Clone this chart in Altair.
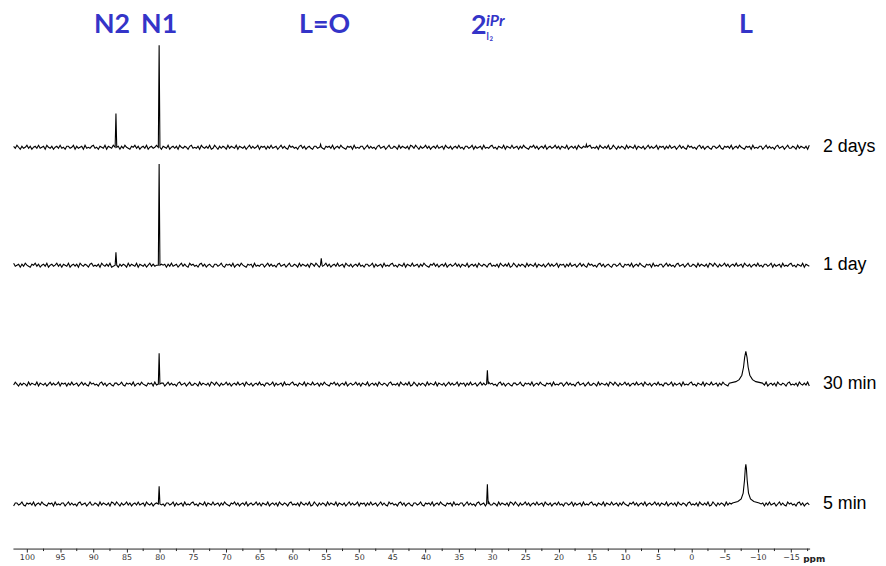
import altair as alt
import numpy as np
import pandas as pd

# ---------------- data ----------------
SPECTRA = ["2 days", "1 day", "30 min", "5 min"]
OFFSETS = [405, 286, 166, 45]  # vertical stacking of each trace (intensity units)

# sharp peaks per spectrum: (ppm, height)
SHARP = {
    "2 days": [(86.6, 34), (80.1, 103), (55.8, 3), (15.8, 3)],
    "1 day": [(86.6, 13), (80.1, 102), (55.7, 7)],
    "30 min": [(80.1, 31), (30.7, 14)],
    "5 min": [(80.1, 18), (30.7, 20)],
}
SHARP_HALF_WIDTH = 0.12

# broad peak of L (ppm, [(distance from centre, height), ...])
BROAD = {
    "30 min": (-8.2, [(2.5, 1), (1.5, 2.5), (1.0, 4.5), (0.6, 9), (0.35, 17), (0.18, 27), (0.0, 33)]),
    "5 min": (-8.2, [(2.0, 1), (1.2, 2.5), (0.7, 5), (0.4, 11), (0.2, 24), (0.08, 36), (0.0, 40)]),
}

# hand-typed baseline noise
NOISE = [
    1, -1, 2, 0, -2, 1, -1, 0, 2, -1, 1, -2, 0, 1, -1, 2, -1, 0, 1, -2, 2, 0, -1, 1, -2, 0, 1, -1, 2, -1,
    0, -2, 1, 1, -1, 0, 2, -2, 1, -1, 0, 1, -2, 2, -1, 0, -1, 1, 2, -1, 0, -2, 1, 0, -1, 2, -2, 1, 0, -1,
    2, -1, 0, 1, -2, 1, -1, 2, 0, -1, -2, 1, 0, 2, -1, 1, -2, 0, 1, -1, 2, -2, 0, 1, -1, 0, 2, -1, 1, -2,
    1, 0, -1, 2, -2, 0, 1, -1, 1, -2, 2, 0, -1, 1, 0, -2, 1, 2, -1, 0, -1, 1, -2, 2, 0, -1, 1, -1, 2, -2,
    -1, 2, 0, -2, 1, -1, 1, 0, -2, 2, -1, 1, 0, -1, 2, -2, 1, 0, -1, 1, -2, 0, 2, -1, 1, -1, 0, 2, -2, 1,
    0, 1, -2, 1, -1, 2, -1, 0, 1, -2, 0, 2, -1, 1, -1, -2, 2, 0, 1, -1, 0, -2, 1, 2, -1, 1, -2, 0, 1, -1,
    -2, 1, 1, -1, 0, 2, -1, -2, 1, 0, 1, -1, 2, -2, 0, 1, -1, 2, 0, -1, -2, 1, 0, 1, -2, 2, -1, 0, -1, 1,
    1, -2, 0, 2, -1, 1, -1, 0, -2, 1, 2, -1, 0, 1, -2, 0, 2, -1, -1, 1, 0, -2, 2, -1, 1, 0, -1, 1, -2, 2,
]
NOISE_SCALE = 1.0

PPM_GRID = np.round(np.arange(102.0, -17.9, -0.25), 2)

X_DOMAIN = [-17.8, 102.1]
MAJOR_TICKS = [100, 95, 90, 85, 80, 75, 70, 65, 60, 55, 50, 45, 40, 35, 30, 25, 20, 15, 10, 5, 0, -5, -10, -15]
MINOR_TICKS = [97.5, 92.5, 87.5, 82.5, 77.5, 72.5, 67.5, 62.5, 57.5, 52.5, 47.5, 42.5, 37.5, 32.5,
               27.5, 22.5, 17.5, 12.5, 7.5, 2.5, -2.5, -7.5, -12.5, -17.5]
MINOR_TICK_LEN = 2.5

# top labels
TOP_TEXT = ["N2", "N1", "L=O", "2", "L"]
TOP_PPM = [87.2, 80.1, 55.2, 32.0, -8.2]
TOP_Y = [528, 528, 528, 527, 528]
SUP_TEXT, SUP_PPM, SUP_Y = "iPr", 30.9, 532
SUB_TEXT, SUB_PPM, SUB_Y = "I\u2082", 30.9, 517

RIGHT_LABEL_PPM = -19.8

# ---------------- build traces ----------------
rows = []
for k, name in enumerate(SPECTRA):
    off = OFFSETS[k]
    pts = []
    spans = [(c - SHARP_HALF_WIDTH - 0.05, c + SHARP_HALF_WIDTH + 0.05) for c, _ in SHARP[name]]
    for c, h in SHARP[name]:
        pts += [(c + SHARP_HALF_WIDTH, 0), (c, h), (c - SHARP_HALF_WIDTH, 0)]
    if name in BROAD:
        c, prof = BROAD[name]
        spans.append((c - prof[0][0] - 0.05, c + prof[0][0] + 0.05))
        for d, h in prof:
            pts.append((c + d, h))
            if d > 0:
                pts.append((c - d, h))
    for i, p in enumerate(PPM_GRID):
        if any(a <= p <= b for a, b in spans):
            continue
        pts.append((float(p), NOISE[(i + 60 * k) % len(NOISE)] * NOISE_SCALE))
    pts.sort(key=lambda t: -t[0])
    for j, (p, v) in enumerate(pts):
        rows.append({"spectrum": name, "ppm": p, "y": v + off, "order": j})
df = pd.DataFrame(rows)

x_scale = alt.Scale(domain=X_DOMAIN, reverse=True, nice=False, zero=False)
y_scale = alt.Scale(domain=[0, 541], nice=False, zero=False)


def xq(field="ppm:Q"):
    return alt.X(field, scale=x_scale, axis=None)


def yq(field):
    return alt.Y(field, scale=y_scale, axis=None)


lines = alt.Chart(df).mark_line(color="black", strokeWidth=1.1, clip=False).encode(
    x=alt.X("ppm:Q", scale=x_scale, axis=alt.Axis(
        values=MAJOR_TICKS, orient="bottom", tickSize=3.5, labelOverlap=False,
        tickColor="#222", domainColor="#222",
        labelFontSize=8, labelColor="#333", labelFont="DejaVu Sans", labelPadding=2, grid=False,
        labelFlush=False, title="ppm", titleFont="DejaVu Sans", titleFontSize=9, titleFontWeight="bold",
        titleColor="#222", titleAnchor="start", titleAlign="left", titleBaseline="middle",
        titleX=797, titleY=10)),
    y=yq("y:Q"),
    detail="spectrum:N",
    order="order:Q",
)

minor_df = pd.DataFrame({"ppm": MINOR_TICKS, "y0": [0] * len(MINOR_TICKS),
                         "y1": [-MINOR_TICK_LEN] * len(MINOR_TICKS)})
minor = alt.Chart(minor_df).mark_rule(color="#222", strokeWidth=1, clip=False).encode(
    x=xq(), y=yq("y0:Q"), y2="y1:Q"
)

right_df = pd.DataFrame({"label": SPECTRA, "ppm": [RIGHT_LABEL_PPM] * 4, "y": OFFSETS})
right = alt.Chart(right_df).mark_text(
    align="left", baseline="middle", font="Liberation Sans", fontSize=18, color="black"
).encode(x=xq(), y=yq("y:Q"), text="label:N")

top_df = pd.DataFrame({"label": TOP_TEXT, "ppm": TOP_PPM, "y": TOP_Y})
top = alt.Chart(top_df).mark_text(
    align="center", baseline="middle", font="Lato", fontSize=27, fontWeight="bold", color="#3434c8"
).encode(x=xq(), y=yq("y:Q"), text="label:N")

sup = alt.Chart(pd.DataFrame({"label": [SUP_TEXT], "ppm": [SUP_PPM], "y": [SUP_Y]})).mark_text(
    align="left", baseline="middle", font="Lato", fontSize=16, fontWeight="bold", fontStyle="italic",
    color="#3434c8"
).encode(x=xq(), y=yq("y:Q"), text="label:N")

sub = alt.Chart(pd.DataFrame({"label": [SUB_TEXT], "ppm": [SUB_PPM], "y": [SUB_Y]})).mark_text(
    align="left", baseline="middle", font="Lato", fontSize=12, color="#3434c8"
).encode(x=xq(), y=yq("y:Q"), text="label:N")

chart = alt.layer(lines, minor, right, top, sup, sub).resolve_axis(x="independent").properties(
    width=804, height=541,
    autosize=alt.AutoSizeParams(type="none"),
    padding={"left": 5, "top": 2, "right": 69, "bottom": 12},
    background="white",
).configure_view(stroke=None)

chart.save("out.html", embed_options={"renderer": "svg", "actions": False})
